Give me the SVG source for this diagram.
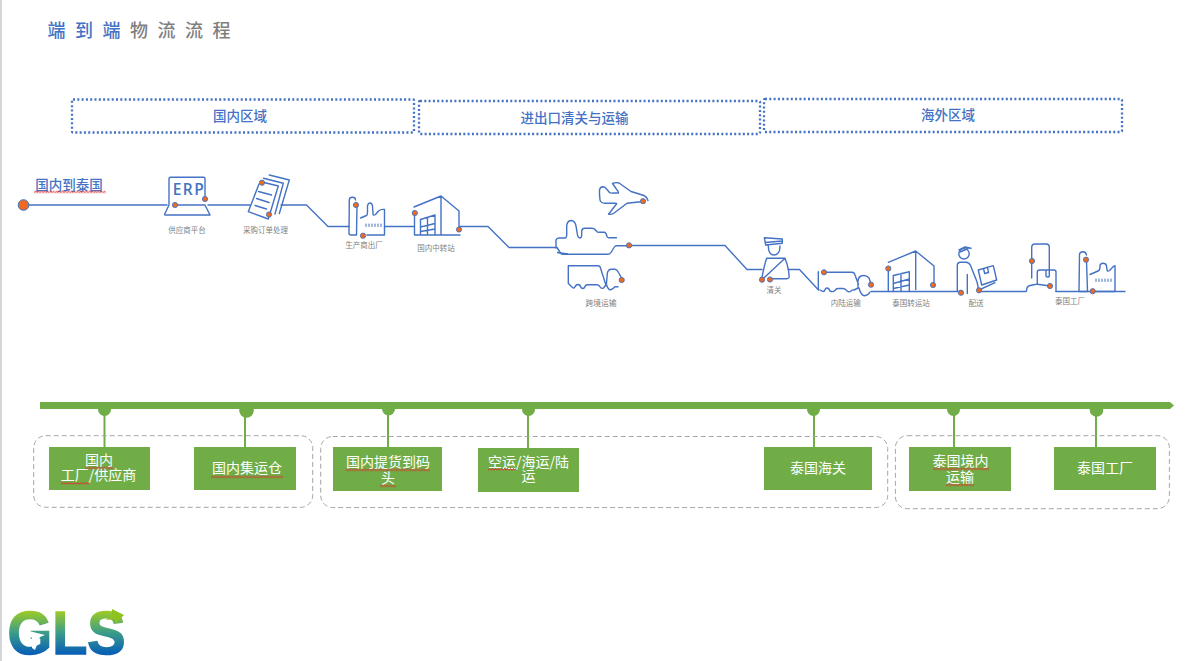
<svg xmlns="http://www.w3.org/2000/svg" width="1200" height="661" viewBox="0 0 1200 661">
<style>
text{font-family:"Noto Sans CJK SC","Liberation Sans",sans-serif;text-anchor:middle}
.ic,.ln{fill:none;stroke:#4472C4;stroke-width:1.4;stroke-linejoin:round;stroke-linecap:round}
.dot{fill:#ED6A1F;stroke:#4472C4;stroke-width:.9}
.lb{font-size:7.5px;fill:#7F7F7F}
.zone{fill:#fff;stroke:#4472C4;stroke-width:2.300;stroke-dasharray:2 2.300}
.zt{font-size:13.500px;fill:#4472C4;font-weight:500}
.grp{fill:none;stroke:#A6A6A6;stroke-width:1;stroke-dasharray:5 3}
.st{fill:#70AD47}
.stem{stroke:#70AD47;stroke-width:2}
.bt{font-size:14px;fill:#fff}
.w{fill:url(#wavy)}
</style>
<defs>
<pattern id="wavy" patternUnits="userSpaceOnUse" width="3" height="3"><path d="M0 2.500L1.500 .5L3 2.500" fill="none" stroke="#E0302A" stroke-width="1"/></pattern>
<linearGradient id="gls" x1="0" y1="0" x2="0" y2="1"><stop offset="0.17" stop-color="#A5CF1E"/><stop offset="0.5" stop-color="#3E9E86"/><stop offset="0.8" stop-color="#0A62B5"/></linearGradient>
</defs>
<rect width="1200" height="661" fill="#fff"/>
<line x1="1" y1="0" x2="1" y2="661" stroke="#C8C8C8" stroke-width="1.5"/>
<g id="title" font-size="18" style="letter-spacing:9.5px;font-weight:500"><text x="47.500" y="37" style="text-anchor:start" fill="#4472C4">端到端<tspan fill="#7F7F7F">物流流程</tspan></text></g>
<g id="zone-1"><rect class="zone" x="72" y="99.5" width="342" height="33" rx="1"/><text class="zt" x="240" y="121">国内区域</text></g>
<g id="zone-2"><rect class="zone" x="419" y="101" width="341" height="33" rx="1"/><text class="zt" x="574.500" y="122.500">进出口清关与运输</text></g>
<g id="zone-3"><rect class="zone" x="764" y="99" width="358" height="33" rx="1"/><text class="zt" x="948" y="120">海外区域</text></g>
<g id="connectors">
<path class="ln" d="M28 205H167M208 205H250M281 205H306.500L328 226.500H349M385 226.500H414M460 226.500H488L509 247.500H556M629 245.500H725L747 269.500H762M788 269.500H799.500L818.500 290M871 291.500H960M979 291.500H1026M1056 291.500H1125"/>
<path d="M40 402H1170L1174 405.500L1170 409H40Z" class="st"/>
<g><line class="stem" x1="104.500" y1="409" x2="104.500" y2="447"/><circle class="st" cx="104.500" cy="409.500" r="6.500"/>
<line class="stem" x1="245" y1="409" x2="245" y2="447"/><circle class="st" cx="246.500" cy="410.500" r="7.300"/>
<line class="stem" x1="388" y1="409" x2="388" y2="447"/><circle class="st" cx="388.500" cy="409" r="6.500"/>
<line class="stem" x1="528" y1="409" x2="528" y2="448"/><circle class="st" cx="528.500" cy="409.500" r="6.500"/>
<line class="stem" x1="814" y1="409" x2="814" y2="447"/><circle class="st" cx="813.500" cy="409.500" r="6.500"/>
<line class="stem" x1="954" y1="409" x2="954" y2="447"/><circle class="st" cx="953.500" cy="409.500" r="6.500"/>
<line class="stem" x1="1096" y1="409" x2="1096" y2="447"/><circle class="st" cx="1096.500" cy="410" r="6.800"/></g>
</g>
<g id="origin"><circle cx="23.500" cy="205" r="5.300" fill="#ED6A1F" stroke="#4472C4" stroke-width="1"/><text x="69" y="189.500" font-size="13.500" font-weight="500" fill="#4472C4">国内到泰国</text><rect class="w" width="72" height="3" transform="translate(34,190.500)"/></g>
<g id="erp"><path class="ic" d="M169 205V178.500Q169 177.300 170.500 177.300H203.500Q205 177.300 205 179V199M175 205H205L210 215H165.500Q164 215 165 213.500L169 205"/><text x="189" y="195" font-size="15.500" font-weight="600" fill="#4472C4" style="font-family:'Open Sans','Liberation Sans',sans-serif;letter-spacing:1.500px">ERP</text><circle class="dot" cx="175" cy="205" r="2.600"/><circle class="dot" cx="205" cy="199" r="2.600"/><text class="lb" x="187" y="233">供应商平台</text></g>
<g id="po"><path class="ic" d="M262 182L278.300 186L268.300 219L248.300 211.700L259 184M263.500 178.300L283.300 183.300L275 214M269.300 175L289.300 180L279.300 213.500M258.500 191.500L271.500 195M256.500 198.500L269 202.500M255 205.500L266.500 209"/><circle class="dot" cx="262" cy="182.700" r="2.600"/><circle class="dot" cx="269" cy="214.500" r="2.600"/><text class="lb" x="265.500" y="233">采购订单处理</text></g>
<g id="factory-1"><path class="ic" d="M355.500 200Q355.500 197.300 352.500 197.300Q349.300 197.300 349.300 200L349 233Q349 235 351 235H356.500L357 205M360.500 218L366.500 215.500Q367.500 215 367.500 212V206Q368 203 370 203Q372 203 372.500 206L373 214Q373.500 216 375.500 214.500L378.500 211Q381 209 384.500 209.500V235H367"/><path class="ic" style="stroke-width:1" d="M366 224V226.500M369 224V226.500M372 224V226.500M375 224V226.500M378 224V226.500M381 224V226.500"/><circle class="dot" cx="356" cy="205" r="2.600"/><circle class="dot" cx="363" cy="235.700" r="2.600"/><text class="lb" x="364" y="247.500">生产商出厂</text></g>
<g id="warehouse-1"><path class="ic" d="M414 207L441 196L459 211V230M441 196V235M414.500 213V235H460M420.500 235V219.500L435 215V235M427.500 235V218M420.500 227L435 223.500M420.500 231.500L435 229"/><circle class="dot" cx="414.800" cy="213" r="2.600"/><circle class="dot" cx="459" cy="229.500" r="2.600"/><text class="lb" x="436" y="251">国内中转站</text></g>
<g id="ship"><path class="ic" d="M556 248L556 240Q556.500 238 559 238H565Q566.500 238 566.700 235V226Q567 221 571 220.500Q575 220.500 576 226L577.500 235Q578 238 580 238Q581.500 238 581.700 235V231Q582 228.300 585 228.300H592Q594.500 228.300 596 230.500L596.700 231.500Q597.500 232.300 599 232.300H604.500Q606 232.500 607 236.500Q607.500 237.800 609 237.800H616.500M557 247.500L560.500 253Q561.500 254.300 563 254.300H608Q610 254.300 611 252.500L614 247.500Q615 245.700 617 245.700H626.500"/><path d="M557 252.500L568 254" fill="none" stroke="#4472C4" stroke-width="1.500"/><circle class="dot" cx="629" cy="245.400" r="2.600"/></g>
<g id="plane"><path class="ic" d="M643 201.500L627 203.300L613.500 213.500Q612 214.500 608.500 214.300L616.500 204Q617 203.300 615 203.300H605Q600.500 203 600 200Q599.300 194 599.500 190Q600 187 603 186.800Q605 186.800 607 189.500L609.500 192.500Q610.500 193.300 613 193H618.500Q619 192.500 616 188.500L612.500 183.500Q616 182 619 183L631 191.500L644 195.500Q647 197 648 200.500"/><circle class="dot" cx="643" cy="201.200" r="2.600"/></g>
<g id="truck-1"><path class="ic" d="M568.300 265.700H598Q600 265.700 600.500 268L606 285.500M568.300 265.700V283.500L572.500 287.500Q574 288.500 574.500 287.500Q576 284.500 578 284.500Q580 284.500 581 287.500Q583 289.500 584.500 287.500Q585.500 284.700 587.500 284.700H597Q599 284.700 600.500 287.500Q602 289 603.500 288Q605.500 285 606.500 285M606.500 283.500L607.300 273.500Q608 269.300 611.500 269.300H615Q617 269.500 618.500 272.500L621.500 278M606.500 284.500Q608 290 610.500 289.800Q613 289 615 286.800H618"/><circle class="dot" cx="621.700" cy="280" r="2.600"/><text class="lb" x="601" y="306" style="font-size:7.800px">跨境运输</text></g>
<g id="customs"><path class="ic" d="M764.300 237.700L782.300 239V243.300L765.700 245ZM765 242.500L782.300 241M768.300 246Q768.300 255 774 255Q780 255 780 246M766.700 258.300H785L761.700 280M766.700 258.300Q765 262 761.700 279M785 258.300Q787 263 788.500 270L789.200 277Q789 278.500 787 278.700H770"/><circle class="dot" cx="762" cy="279.700" r="2.600"/><circle class="dot" cx="770" cy="279.500" r="2.600"/><text class="lb" x="774" y="293">清关</text></g>
<g id="truck-2"><path class="ic" d="M818.300 271.700V289.500M824 272.300H852Q854.500 272.500 855 275L858.500 284.500M820 290Q822 291.500 824 291.500Q825.500 288 827 288Q829 288 830 291Q833 292.500 835 290.500Q836 288.500 838 288.500H843Q845.500 288.500 847 291Q849 292.500 851 291Q852.500 289.500 854 290L858 288M858 287Q857 277.500 861 276Q866 274.500 869 278L871 284M859 288Q861 295.500 864.500 295.800Q868 295.500 870 292"/><circle class="dot" cx="824" cy="272.300" r="2.600"/><circle class="dot" cx="871" cy="284.700" r="2.600"/><text class="lb" x="845.700" y="306">内陆运输</text></g>
<g id="warehouse-2"><path class="ic" d="M888.300 262.300L915.700 251L934 266V285M915.700 251V289.500M888.300 269V291.500M893.300 291.500V275.500L909.300 271.700V291.500M901 291.500V273.500M893.300 283.500L909.300 279M893.300 288.500L909.300 285"/><circle class="dot" cx="888.300" cy="268.500" r="2.600"/><circle class="dot" cx="933" cy="285" r="2.600"/><text class="lb" x="911" y="306">泰国转运站</text></g>
<g id="delivery"><circle class="ic" cx="964" cy="253.800" r="5.200"/><path class="ic" d="M959 250L965 247L971 248.300M960 252L968 248.500M957.300 291.500V265.500Q957.300 262.300 960.500 262.300H966Q969 262.500 970.500 265.500L976.700 281Q978 285 978.500 290M967.300 274.500V293.500M978.300 270L993.300 265.700L996.700 280L981.700 285ZM983.500 268.500L984.700 273.500L988.500 272.500L987.500 267.300M979 290L995 282.700"/><circle class="dot" cx="961" cy="292.700" r="2.600"/><circle class="dot" cx="979" cy="290.300" r="2.600"/><text class="lb" x="976" y="306">配送</text></g>
<g id="plant-worker"><path class="ic" d="M1031.700 278V247.500Q1031.700 244 1035 244H1046Q1049.300 244 1049.300 247.500V270M1037.300 284V272Q1037.300 270 1039.500 270H1054Q1056 270 1056 272V291.500M1046 270V276Q1046 277 1047.500 277H1048.500Q1049.300 277 1049.300 276V270M1026.500 291Q1026.500 286.500 1030 285.500L1035 284.500Q1036.500 284 1037.500 284.300L1050 286"/><circle class="dot" cx="1032" cy="261" r="2.600"/><circle class="dot" cx="1050" cy="286" r="2.600"/></g>
<g id="factory-2"><path class="ic" d="M1086.500 255Q1086 251.700 1083 251.700Q1079.500 251.700 1079.500 255L1079 291.500H1087.500L1086.500 260M1090 274.500L1098 271Q1100 270.500 1100 267V265.500Q1100.500 263.300 1103 263.300Q1106 263.300 1106.500 266L1107 270Q1107.500 272 1109.500 270.500L1111.500 268.500Q1113 266 1115 265.700V291.500H1092"/><path class="ic" style="stroke-width:1" d="M1096 279V281.500M1099 279V281.500M1102 279V281.500M1105 279V281.500M1108 279V281.500M1111 279V281.500"/><circle class="dot" cx="1086" cy="259.700" r="2.600"/><circle class="dot" cx="1092.700" cy="291.200" r="2.600"/><text class="lb" x="1070" y="303.500">泰国工厂</text></g>
<g id="group-1"><rect class="grp" x="33.700" y="435.700" width="279" height="71.600" rx="12"/></g>
<g id="group-2"><rect class="grp" x="320.700" y="436.500" width="567" height="71" rx="12"/></g>
<g id="group-3"><rect class="grp" x="895.400" y="435.700" width="274" height="73" rx="12"/></g>
<g id="step-1"><rect class="st" x="49" y="447" width="101" height="43"/><text class="bt"><tspan x="99" y="465">国内</tspan><tspan x="98.500" y="480">工厂/供应商</tspan></text><rect class="w" width="28" height="3" transform="translate(85,466.500)"/><rect class="w" width="28" height="3" transform="translate(61,482)"/></g>
<g id="step-2"><rect class="st" x="194" y="447" width="102" height="43"/><text class="bt" x="247" y="473">国内集运仓</text><rect class="w" width="72" height="3" transform="translate(211,475.500)"/></g>
<g id="step-3"><rect class="st" x="333" y="447" width="109" height="44"/><text class="bt"><tspan x="388" y="466.500">国内提货到码</tspan><tspan x="388" y="482.500">头</tspan></text><rect class="w" width="84" height="3" transform="translate(346,468.500)"/><rect class="w" width="16" height="3" transform="translate(380,484.500)"/></g>
<g id="step-4"><rect class="st" x="478" y="448" width="101" height="44"/><text class="bt"><tspan x="528.500" y="466.500">空运/海运/陆</tspan><tspan x="528.500" y="481">运</tspan></text><rect class="w" width="28" height="3" transform="translate(488,468)"/></g>
<g id="step-5"><rect class="st" x="764" y="447" width="108" height="43"/><text class="bt" x="818" y="473">泰国海关</text></g>
<g id="step-6"><rect class="st" x="909" y="447" width="102" height="44"/><text class="bt"><tspan x="960.500" y="466">泰国境内</tspan><tspan x="960" y="482">运输</tspan></text><rect class="w" width="56" height="3" transform="translate(933,467.500)"/><rect class="w" width="28" height="3" transform="translate(946,483.500)"/></g>
<g id="step-7"><rect class="st" x="1054" y="447" width="102" height="43"/><text class="bt" x="1105" y="473">泰国工厂</text></g>
<g id="logo"><text x="66.500" y="653.500" font-size="62" font-weight="700" fill="url(#gls)" stroke="url(#gls)" stroke-width="1.500" textLength="118" lengthAdjust="spacingAndGlyphs" style="font-family:'Liberation Sans',sans-serif">GLS</text><path d="M106 620L112 615V609L124 615L116 623L114 619Z" fill="#8DC21F"/><path d="M25 630L45 635L40 637L35 650L32 648L32 638L25 633Z" fill="#fff"/></g>
</svg>
